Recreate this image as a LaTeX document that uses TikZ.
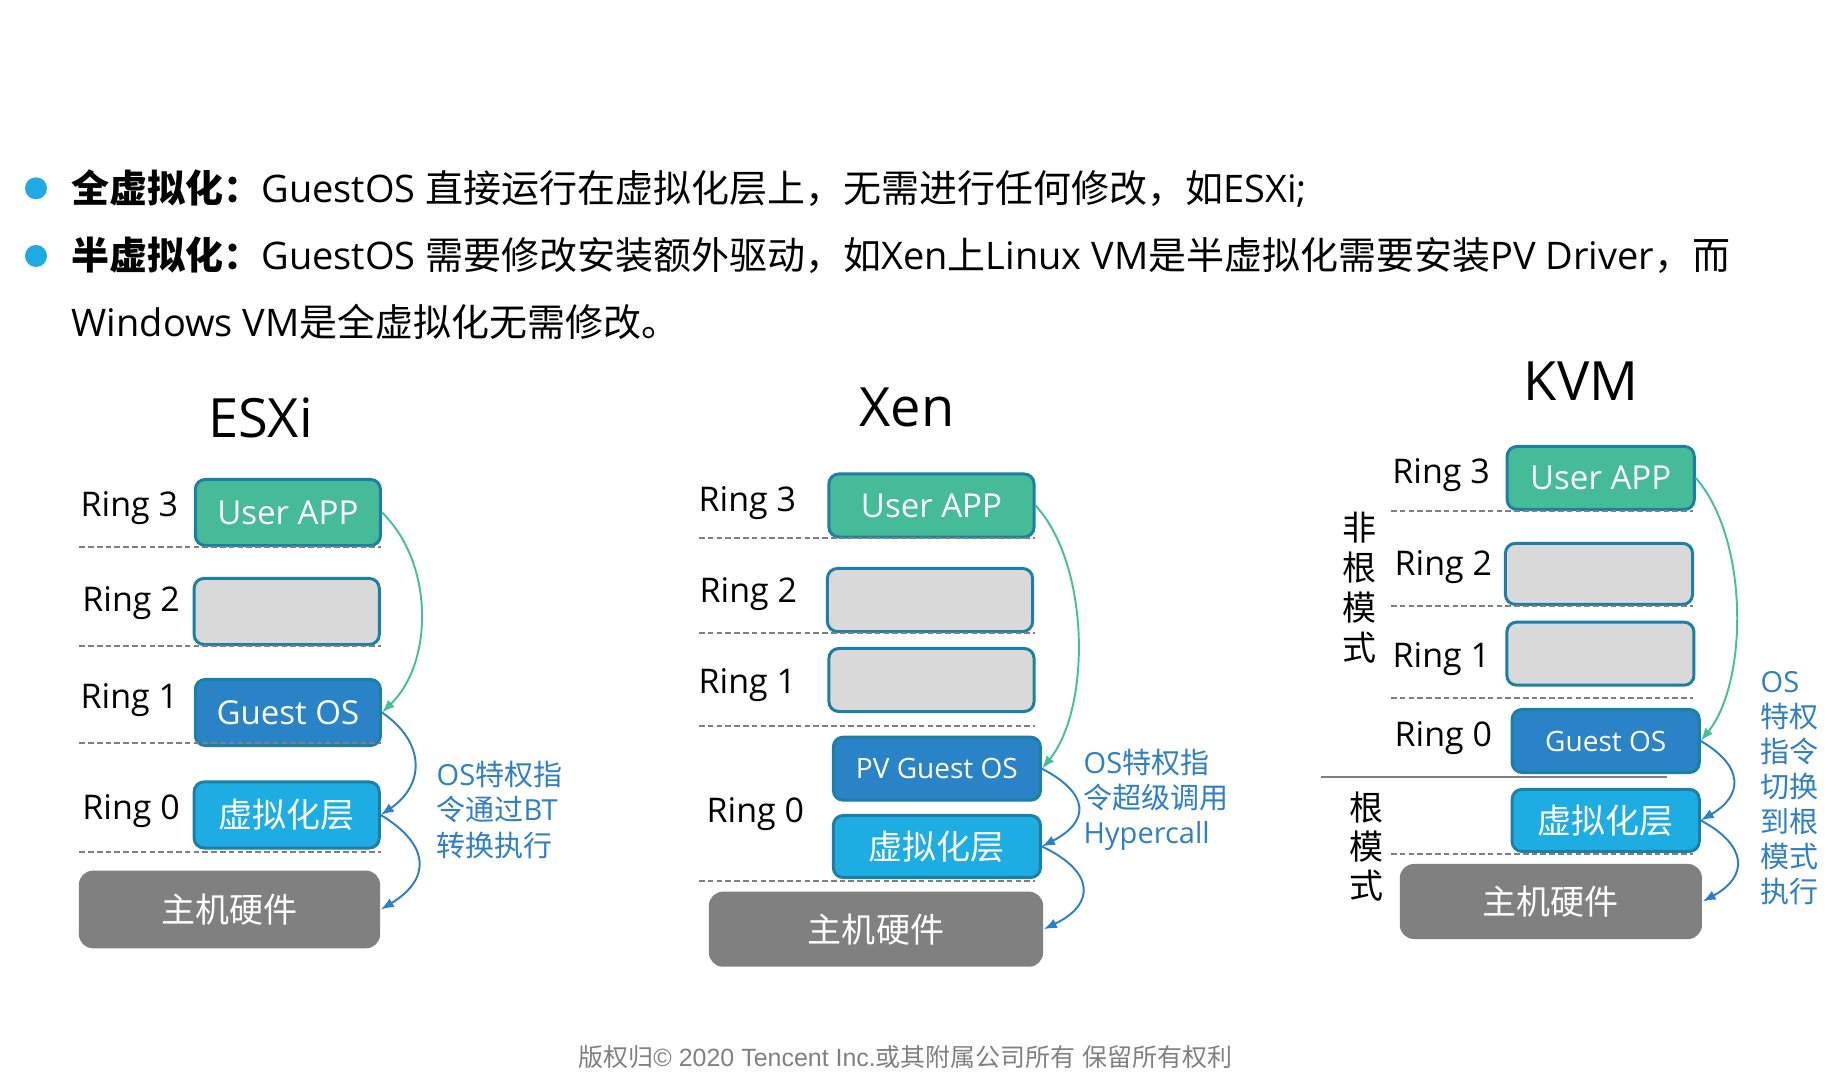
\documentclass[tikz,border=0pt]{standalone}
\usepackage{fontspec}
\setmainfont{Open Sans}
\newfontfamily\cjk{Noto Sans CJK SC}
\newfontfamily\footfont{Liberation Sans}
\usetikzlibrary{arrows.meta}
\definecolor{appgreen}{HTML}{45BB97}
\definecolor{ringgray}{HTML}{D9D9D9}
\definecolor{guestblue}{HTML}{2A83C6}
\definecolor{vmmblue}{HTML}{1EADE3}
\definecolor{hwgray}{HTML}{808080}
\definecolor{edge}{HTML}{1B7FA6}
\definecolor{dashgray}{HTML}{7F7F7F}
\definecolor{notblue}{HTML}{2E7EC8}
\definecolor{trapgreen}{HTML}{45C096}
\definecolor{trapblue}{HTML}{2A7FCB}
\definecolor{dotblue}{HTML}{1EAAE2}
\newcommand\zh[1]{{\cjk #1}}
\begin{document}
\begin{tikzpicture}[x=0.01cm,y=-0.01cm,
  dot/.style={circle,fill=dotblue,inner sep=0pt,minimum size=2.2mm},
  line/.style={anchor=base west,inner sep=0pt,font=\fontsize{10.8pt}{12pt}\selectfont},
  title/.style={anchor=base,inner sep=0pt,font=\fontsize{15.4pt}{18pt}\selectfont},
  ringlabel/.style={anchor=base west,inner sep=0pt,font=\fontsize{9.67pt}{11pt}\selectfont},
  layer/.style={draw=edge,line width=0.85pt,rounded corners=2.8pt,inner sep=0pt,text=white},
  app/.style={layer,fill=appgreen,font=\fontsize{9.39pt}{11pt}\selectfont},
  spare/.style={layer,fill=ringgray},
  guest/.style={layer,fill=guestblue,font=\fontsize{9.39pt}{11pt}\selectfont},
  vmm/.style={layer,fill=vmmblue,font=\cjk\fontsize{9.67pt}{11pt}\selectfont},
  hw/.style={fill=hwgray,rounded corners=4pt,inner sep=0pt,text=white,font=\cjk\fontsize{9.67pt}{11pt}\selectfont},
  sep/.style={dashgray,line width=0.57pt,dash pattern=on 1.6pt off 0.9pt},
  trap/.style={-{Latex[length=3.7pt,width=2.8pt]},line width=0.55pt},
  note/.style={anchor=west,align=left,inner sep=0pt,text=notblue,font=\fontsize{8.25pt}{9.96pt}\selectfont},
  vlabel/.style={align=center,inner sep=0pt,font=\cjk\fontsize{9.67pt}{11.38pt}\selectfont}]
  \useasboundingbox (0,0) rectangle (1841,1086);
  % Bullets
  \node[dot] (dot1) at (36,188.3) {};
  \node[dot] (dot2) at (36,256) {};
  \node[line] (line1) at (71,203) {\zh{\bfseries 全虚拟化：}GuestOS \zh{直接运行在虚拟化层上，无需进行任何修改，如}ESXi;};
  \node[line] (line2) at (71,270) {\zh{\bfseries 半虚拟化：}GuestOS \zh{需要修改安装额外驱动，如}Xen\zh{上}Linux VM\zh{是半虚拟化需要安装}PV Driver\zh{，而}};
  \node[line] (line3) at (71,336.7) {Windows VM\zh{是全虚拟化无需修改。}};
  % ESXi
  \node[title] (esxi) at (260.5,438) {ESXi};
  \node[ringlabel] (esxi3) at (80,516.7) {Ring 3};
  \node[ringlabel] (esxi2) at (81.7,611.7) {Ring 2};
  \node[ringlabel] (esxi1) at (80,708.3) {Ring 1};
  \node[ringlabel] (esxi0) at (81.7,820) {Ring 0};
  \node[app,minimum width=18.5mm,minimum height=6.6mm] (esxiapp) at (287.9,512.5) {User APP};
  \node[spare,minimum width=18.5mm,minimum height=6.6mm] (esxir2) at (286.7,611.5) {};
  \node[guest,minimum width=18.5mm,minimum height=6.6mm] (esxios) at (287.9,712.5) {Guest OS};
  \node[vmm,minimum width=18.5mm,minimum height=6.6mm] (esxivmm) at (286.7,815) {虚拟化层};
  \node[hw,minimum width=30.1mm,minimum height=7.76mm] (esxihw) at (229.5,909.5) {主机硬件};
  \foreach \y in {547.3,646,742.7,851.7}
    \draw[sep] (79.3,\y) -- (380.7,\y);
  \draw[trap,trapgreen] (esxiapp.east) .. controls +(52,50) and +(52,-50) .. (esxios.east);
  \draw[trap,trapblue] (esxios.east) .. controls +(44,30) and +(44,-30) .. (esxivmm.east);
  \draw[trap,trapblue] (esxivmm.east) .. controls +(50,30) and +(50,-30) .. (esxihw.east);
  \node[note] (esxinote) at (436,810) {OS\zh{特权指}\\\zh{令通过}BT\\\zh{转换执行}};
  % Xen
  \node[title] (xen) at (907,427) {Xen};
  \node[ringlabel] (xen3) at (698,511.7) {Ring 3};
  \node[ringlabel] (xen2) at (699,602.7) {Ring 2};
  \node[ringlabel] (xen1) at (698,694) {Ring 1};
  \node[ringlabel] (xen0) at (706,822.7) {Ring 0};
  \node[app,minimum width=20.5mm,minimum height=6.3mm] (xenapp) at (931.5,505.5) {User APP};
  \node[spare,minimum width=20.5mm,minimum height=6.3mm] (xenr2) at (930,600) {};
  \node[spare,minimum width=20.5mm,minimum height=6.3mm] (xenr1) at (931.5,680) {};
  \node[guest,minimum width=20.7mm,minimum height=6.3mm,font=\fontsize{7.97pt}{9pt}\selectfont] (xenos) at (936.9,768.7) {PV Guest OS};
  \node[vmm,minimum width=20.7mm,minimum height=6.2mm] (xenvmm) at (936.9,846.5) {虚拟化层};
  \node[hw,minimum width=33.4mm,minimum height=7.5mm] (xenhw) at (876,929.2) {主机硬件};
  \foreach \y in {537.7,633,725.7,881}
    \draw[sep] (699,\y) -- (1035,\y);
  \draw[trap,trapgreen] (xenapp.east) .. controls +(55,60) and +(49,-60) .. (xenos.east);
  \draw[trap,trapblue] (xenos.east) .. controls +(48,25) and +(48,-25) .. (xenvmm.east);
  \draw[trap,trapblue] (xenvmm.east) .. controls +(53,25) and +(52,-25) .. (xenhw.east);
  \node[note] (xennote) at (1083,800) {OS\zh{特权指}\\\zh{令超级调用}\\Hypercall};
  % KVM
  \node[title] (kvm) at (1581,400.4) {KVM};
  \node[ringlabel] (kvm3) at (1391.7,484) {Ring 3};
  \node[ringlabel] (kvm2) at (1394,576) {Ring 2};
  \node[ringlabel] (kvm1) at (1392,667.3) {Ring 1};
  \node[ringlabel] (kvm0) at (1394,746.7) {Ring 0};
  \node[app,minimum width=18.7mm,minimum height=6.3mm] (kvmapp) at (1600.7,478) {User APP};
  \node[spare,minimum width=18.7mm,minimum height=6.1mm] (kvmr2) at (1599,573.9) {};
  \node[spare,minimum width=18.7mm,minimum height=6.3mm] (kvmr1) at (1600.4,653.7) {};
  \node[guest,minimum width=18.7mm,minimum height=6.3mm,font=\fontsize{7.97pt}{9pt}\selectfont] (kvmos) at (1605.7,741) {Guest OS};
  \node[vmm,minimum width=18.7mm,minimum height=6.2mm] (kvmvmm) at (1605.7,820.4) {虚拟化层};
  \node[hw,minimum width=30.2mm,minimum height=7.5mm] (kvmhw) at (1550.9,901.5) {主机硬件};
  \foreach \y in {511,606,698,854}
    \draw[sep] (1391,\y) -- (1692.7,\y);
  \draw[dashgray,line width=0.6pt] (1321,776.7) -- (1666.7,776.7);
  \node[vlabel] (nonroot) at (1359,588) {非\\根\\模\\式};
  \node[vlabel,font=\cjk\fontsize{9.67pt}{11.1pt}\selectfont] (root) at (1366.7,846.7) {根\\模\\式};
  \draw[trap,trapgreen] (kvmapp.east) .. controls +(53,60) and +(48,-60) .. (kvmos.east);
  \draw[trap,trapblue] (kvmos.east) .. controls +(43,25) and +(43,-25) .. (kvmvmm.east);
  \draw[trap,trapblue] (kvmvmm.east) .. controls +(47,25) and +(46,-25) .. (kvmhw.east);
  \node[note] (kvmnote) at (1760,788) {OS\\\zh{特权}\\\zh{指令}\\\zh{切换}\\\zh{到根}\\\zh{模式}\\\zh{执行}};
  % Footer
  \node[inner sep=0pt,text=hwgray,font=\footfont\fontsize{7.1pt}{8pt}\selectfont] (copyright) at (905.5,1057) {\zh{版权归}© 2020 Tencent Inc.\zh{或其附属公司所有} \zh{保留所有权利}};
\end{tikzpicture}
\end{document}
